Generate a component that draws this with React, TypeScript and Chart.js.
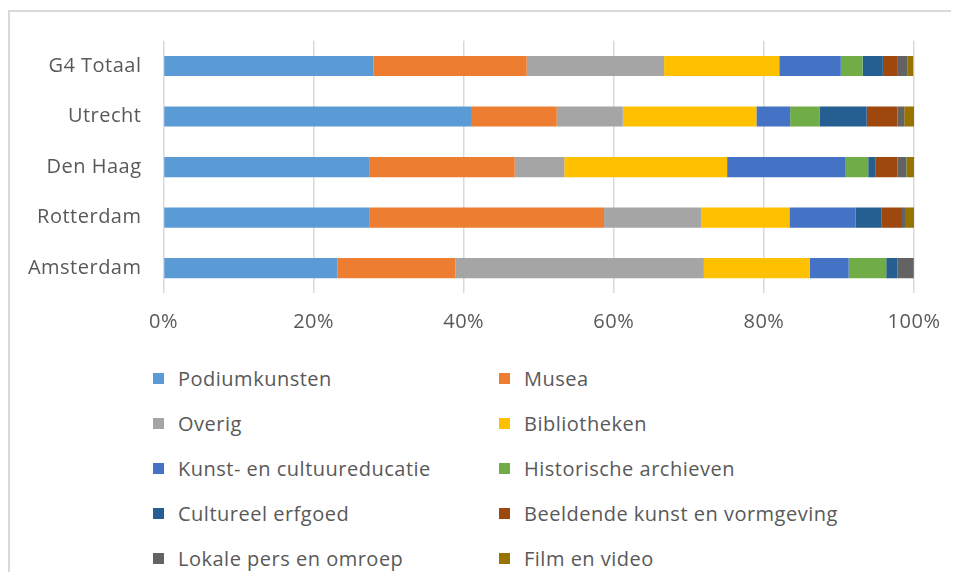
import React, { useEffect, useRef } from "react";
import { Chart, registerables } from "chart.js";

Chart.register(...registerables);

const categories = ["G4 Totaal", "Utrecht", "Den Haag", "Rotterdam", "Amsterdam"];
const seriesNames = [
  "Podiumkunsten",
  "Musea",
  "Overig",
  "Bibliotheken",
  "Kunst- en cultuureducatie",
  "Historische archieven",
  "Cultureel erfgoed",
  "Beeldende kunst en vormgeving",
  "Lokale pers en omroep",
  "Film en video",
];
const podiumkunsten = [28.0, 41.1, 27.4, 27.4, 23.2];
const musea = [20.4, 11.3, 19.4, 31.3, 15.7];
const overig = [18.3, 8.8, 6.6, 13.0, 33.1];
const bibliotheken = [15.35, 17.8, 21.7, 11.7, 14.1];
const kunstEducatie = [8.2, 4.5, 15.8, 8.8, 5.2];
const historischeArchieven = [2.9, 3.9, 3.0, 0, 5.0];
const cultureelErfgoed = [2.7, 6.3, 1.0, 3.5, 1.5];
const beeldendeKunst = [1.9, 4.1, 2.9, 2.7, 0];
const lokalePers = [1.35, 0.9, 1.2, 0.4, 2.1];
const filmVideo = [0.8, 1.3, 1.0, 1.2, 0.1];
const xTicks = [0, 20, 40, 60, 80, 100];

const seriesValues = [
  podiumkunsten,
  musea,
  overig,
  bibliotheken,
  kunstEducatie,
  historischeArchieven,
  cultureelErfgoed,
  beeldendeKunst,
  lokalePers,
  filmVideo,
];
const colors = [
  "#5B9BD5",
  "#ED7D31",
  "#A5A5A5",
  "#FFC000",
  "#4472C4",
  "#70AD47",
  "#255E91",
  "#9E480E",
  "#636363",
  "#997300",
];

const FONT = "'Open Sans', sans-serif";
const TEXT = "#595959";
const SPACING = "0.5px";

const spacingPlugin = {
  id: "letterSpacing",
  beforeUpdate: (chart: any) => {
    chart.ctx.letterSpacing = SPACING;
  },
  beforeDraw: (chart: any) => {
    chart.ctx.letterSpacing = SPACING;
  },
};

export default function App() {
  const ref = useRef<HTMLCanvasElement | null>(null);
  useEffect(() => {
    document.documentElement.style.overflow = "hidden";
    if (!ref.current) return;
    const chart = new Chart(ref.current, {
      type: "bar",
      plugins: [spacingPlugin],
      data: {
        labels: categories,
        datasets: seriesNames.map((name, i) => ({
          label: name,
          data: seriesValues[i],
          backgroundColor: colors[i],
          borderWidth: 0,
          barPercentage: 0.4,
          categoryPercentage: 1,
        })),
      },
      options: {
        indexAxis: "y",
        responsive: false,
        animation: false,
        layout: { padding: { left: 0, right: 45, top: 28.75, bottom: 18.7 } },
        plugins: { legend: { display: false }, tooltip: { enabled: false } },
        scales: {
          x: {
            stacked: true,
            min: 0,
            max: 100,
            afterBuildTicks: (s: any) => {
              s.ticks = xTicks.map((v) => ({ value: v }));
            },
            afterFit: (s: any) => {
              s.height = 40;
            },
            ticks: {
              callback: (v: any) => v + "%",
              color: TEXT,
              font: { family: FONT, size: 20 },
              padding: 17,
            },
            grid: { color: "#D9D9D9", lineWidth: 1.5, drawTicks: false },
            border: { display: false },
          },
          y: {
            stacked: true,
            afterFit: (s: any) => {
              s.width = 153.5;
              s.paddingTop = 0;
              s.paddingBottom = 0;
            },
            ticks: {
              color: TEXT,
              font: { family: FONT, size: 20 },
              padding: 22,
            },
            grid: { display: false, drawTicks: false },
            border: { display: false },
          },
        },
      },
    });
    return () => chart.destroy();
  }, []);

  const legendRows = [0, 1, 2, 3, 4];
  return (
    <div style={{ paddingTop: 2 }}>
      <div
        style={{
          position: "relative",
          width: 949,
          height: 560,
          borderTop: "2px solid #D9D9D9",
          borderLeft: "2px solid #D9D9D9",
          overflow: "hidden",
        }}
      >
        <canvas
          ref={ref}
          width={949}
          height={340}
          style={{ position: "absolute", left: 0, top: 0 }}
        />
        {legendRows.map((r) =>
          [0, 1].map((c) => {
            const i = r * 2 + c;
            return (
              <div
                key={i}
                style={{
                  position: "absolute",
                  left: c === 0 ? 143 : 489,
                  top: 354 + r * 45,
                  height: 24,
                  display: "flex",
                  alignItems: "center",
                  fontFamily: FONT,
                  fontSize: 20,
                  letterSpacing: SPACING,
                  color: TEXT,
                  whiteSpace: "nowrap",
                }}
              >
                <span
                  style={{
                    display: "inline-block",
                    width: 11,
                    height: 11,
                    background: colors[i],
                    marginRight: 14,
                  }}
                />
                <span>{seriesNames[i]}</span>
              </div>
            );
          })
        )}
      </div>
    </div>
  );
}
